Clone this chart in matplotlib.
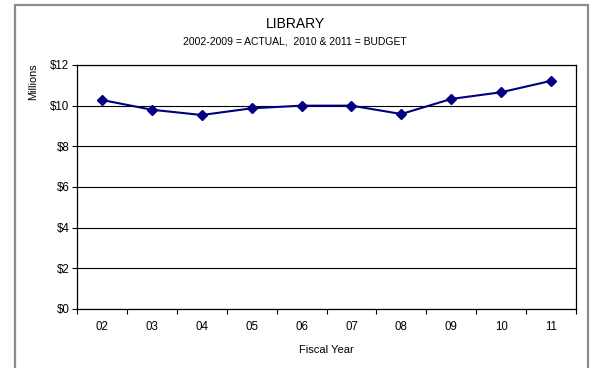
import numpy as np
import matplotlib
matplotlib.use('Agg')
import matplotlib.pyplot as plt
from matplotlib.patches import Rectangle

plt.rcParams['font.family'] = ['Liberation Sans', 'DejaVu Sans']

years = ["02", "03", "04", "05", "06", "07", "08", "09", "10", "11"]
spending = [10.28, 9.80, 9.54, 9.87, 10.0, 10.0, 9.59, 10.33, 10.66, 11.22]
yticks = [0, 2, 4, 6, 8, 10, 12]
ytick_labels = ["$0", "$2", "$4", "$6", "$8", "$10", "$12"]

W, H = 590, 368
fig = plt.figure(figsize=(W / 100, H / 100), dpi=100)

# outer chart frame
fig.patches.append(Rectangle((15 / W, -0.05), 573 / W, 1 - 5 / H + 0.05,
                             transform=fig.transFigure, fill=False,
                             edgecolor='#8c8c8c', linewidth=1.6))

ax = fig.add_axes([77 / W, 1 - 309 / H, 499 / W, 244 / H])
x = np.arange(len(years))
ax.plot(x, spending, color='#000080', marker='D', markersize=5.5,
        linewidth=1.5, zorder=3)

ax.set_xlim(-0.5, len(years) - 0.5)
ax.set_ylim(0, 12)
ax.set_yticks(yticks)
ax.set_yticklabels(ytick_labels)
ax.set_xticks(x)
ax.set_xticklabels(years)
ax.set_xticks(np.arange(-0.5, len(years)), minor=True)
ax.tick_params(axis='x', which='major', length=0, labelsize=8.3, pad=9)
ax.tick_params(axis='x', which='minor', length=3.5, width=0.8)
ax.tick_params(axis='y', length=3.5, width=0.8, labelsize=8.3, pad=2)
ax.grid(axis='y', color='black', linewidth=0.8)
ax.set_axisbelow(True)
for s in ax.spines.values():
    s.set_linewidth(0.9)

ax.set_xlabel("Fiscal Year", fontsize=8, labelpad=8)
fig.text(33 / W, 1 - 82 / H, "Millions", rotation=90, fontsize=7.8,
         ha='center', va='center')

fig.text(0.5, 1 - 24 / H, "LIBRARY", fontsize=10, ha='center', va='center')
fig.text(0.5, 1 - 41 / H, "2002-2009 = ACTUAL,  2010 & 2011 = BUDGET",
         fontsize=7.5, ha='center', va='center')

fig.savefig('out.png', dpi=100)
